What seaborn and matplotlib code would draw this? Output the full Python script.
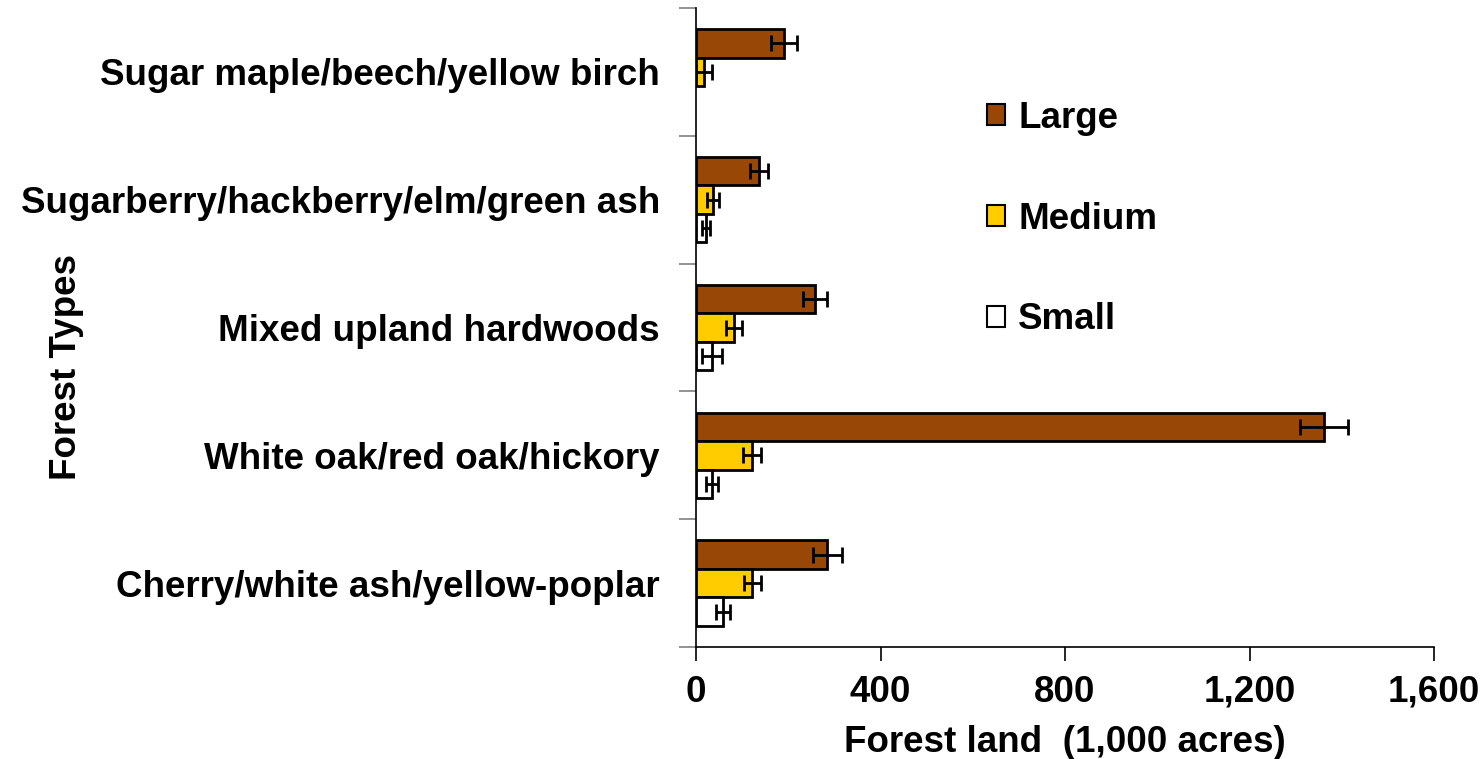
import matplotlib
matplotlib.use("Agg")
import matplotlib.pyplot as plt
import seaborn as sns
import pandas as pd
import numpy as np
from matplotlib.ticker import FixedLocator, NullFormatter, FuncFormatter

forest_types = [
    "Sugar maple/beech/yellow birch",
    "Sugarberry/hackberry/elm/green ash",
    "Mixed upland hardwoods",
    "White oak/red oak/hickory",
    "Cherry/white ash/yellow-poplar",
]
sizes = ["Large", "Medium", "Small"]
large = [190, 136, 258, 1362, 285]
medium = [18, 36, 83, 122, 122]
small = [0, 21, 35, 35, 58]
large_err = [28, 20, 27, 52, 31]
medium_err = [17, 13, 17, 20, 19]
small_err = [0, 9, 22, 13, 15]
colors = ["#994706", "#FFCC00", "#FFFFFF"]
xticks = [0, 400, 800, 1200, 1600]

values = {"Large": large, "Medium": medium, "Small": small}
errors = {"Large": large_err, "Medium": medium_err, "Small": small_err}
rows = []
for s in sizes:
    for t, v in zip(forest_types, values[s]):
        rows.append({"type": t, "size": s, "value": v})
df = pd.DataFrame(rows)

sns.set_theme(style="white")
plt.rcParams["font.family"] = ["Liberation Sans", "DejaVu Sans"]
plt.rcParams["font.weight"] = "bold"
plt.rcParams["text.color"] = "black"
plt.rcParams["axes.labelcolor"] = "black"
plt.rcParams["xtick.color"] = "black"
plt.rcParams["ytick.color"] = "black"

FS = 26.5

fig = plt.figure(figsize=(14.84, 7.59), dpi=100)
ax = fig.add_axes([696 / 1484, 1 - 647 / 759, (1434 - 696) / 1484, (647 - 8) / 759])

width = 0.667
sns.barplot(data=df, y="type", x="value", hue="size", order=forest_types,
            hue_order=sizes, palette=colors, orient="h", width=width,
            edgecolor="black", linewidth=2.0, errorbar=None, ax=ax,
            saturation=1)
for p in ax.patches:
    if p.get_width() == 0:
        p.set_visible(False)

bw = width / 3
for j, s in enumerate(sizes):
    for i, (v, e) in enumerate(zip(values[s], errors[s])):
        if v == 0 and e == 0:
            continue
        y = i + (j - 1) * bw
        ax.errorbar(v, y, xerr=e, fmt="none", ecolor="black", elinewidth=2.0,
                    capsize=6, capthick=2.0, zorder=5)

ax.set_xlim(0, 1600)
ax.set_ylim(4.5, -0.5)
ax.set_xticks(xticks)
ax.xaxis.set_major_formatter(FuncFormatter(lambda x, p: f"{int(x):,}"))
ax.tick_params(axis="x", which="major", direction="out", length=10, width=1.2,
               color="black", labelsize=FS, labelcolor="black", pad=10, bottom=True)
ax.yaxis.set_minor_locator(FixedLocator(np.arange(-0.5, 5.0, 1.0)))
ax.yaxis.set_minor_formatter(NullFormatter())
ax.tick_params(axis="y", which="major", length=0, labelsize=FS, labelcolor="black", pad=26)
ax.tick_params(axis="y", which="minor", direction="out", length=12, width=1.2,
               color="#808080", left=True)
for lab in ax.get_xticklabels() + ax.get_yticklabels():
    lab.set_fontweight("bold")

for side in ["top", "right"]:
    ax.spines[side].set_visible(False)
for side in ["left", "bottom"]:
    ax.spines[side].set_color("black")
    ax.spines[side].set_linewidth(1.2)

ax.set_xlabel("Forest land  (1,000 acres)", fontsize=FS, fontweight="bold",
              labelpad=11, color="black")
ax.set_ylabel("")
fig.text(66 / 1484, 1 - 367 / 759, "Forest Types", rotation=90, fontsize=FS,
         fontweight="bold", ha="center", va="center", color="black")

leg = ax.legend(loc="upper left", bbox_to_anchor=((972 - 696) / 738, 1 - (86 - 8) / 639),
                frameon=False, fontsize=FS, labelspacing=1.79, handlelength=0.5,
                handleheight=0.5, handletextpad=0.35, borderaxespad=0)
for h in leg.get_patches():
    h.set_visible(True)
    h.set_edgecolor("black")
    h.set_linewidth(1.5)
for t in leg.get_texts():
    t.set_fontweight("bold")
    t.set_color("black")

fig.savefig("out.png", dpi=100, facecolor="white")
